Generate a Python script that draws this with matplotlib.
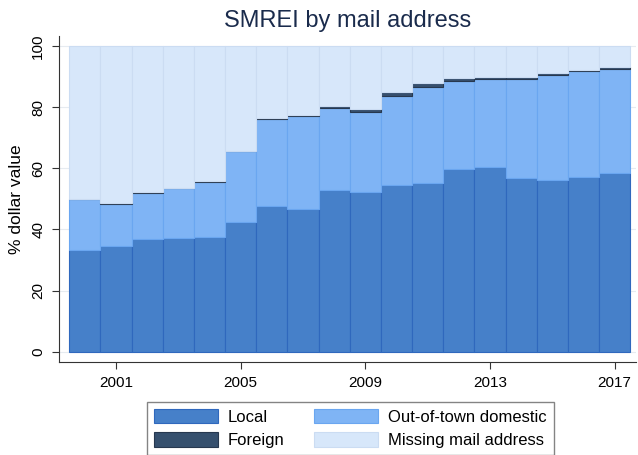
import matplotlib.pyplot as plt
import numpy as np

plt.rcParams["font.family"] = ["Liberation Sans", "DejaVu Sans"]

years = list(range(2000, 2018))
local = [33.3, 34.5, 36.9, 37.2, 37.6, 42.5, 47.8, 46.7, 52.8, 52.1,
         54.4, 55.3, 59.7, 60.5, 56.9, 56.3, 57.3, 58.6]
out_of_town = [16.5, 13.9, 14.9, 16.2, 17.8, 23.0, 28.2, 30.4, 26.8, 26.2,
               29.1, 31.2, 28.8, 28.6, 32.3, 34.2, 34.4, 33.9]
foreign = [0.3, 0.3, 0.3, 0.3, 0.3, 0.3, 0.4, 0.4, 0.8, 1.1,
           1.3, 1.3, 1.0, 0.9, 0.7, 0.7, 0.6, 0.5]
missing = [100 - a - b - c for a, b, c in zip(local, out_of_town, foreign)]

c_local = "#4680c9"
c_oot = "#7fb4f5"
c_foreign = "#36506e"
c_missing = "#d7e7fa"

fig = plt.figure(figsize=(6.38, 4.55), dpi=100)
ax = fig.add_axes([0.0925, 0.205, 0.905, 0.716])

x = np.array(years)
bottom = np.zeros(len(years))
series = [
    ("Local", local, c_local, "#2f68bd"),
    ("Out-of-town domestic", out_of_town, c_oot, "#6aa6f0"),
    ("Foreign", foreign, c_foreign, "#27384f"),
    ("Missing mail address", missing, c_missing, "#cbdcf2"),
]
handles = {}
for name, vals, col, edge in series:
    bars = ax.bar(x, vals, width=1.0, bottom=bottom, color=col,
                  edgecolor=edge, linewidth=0.8, label=name, zorder=2)
    handles[name] = bars
    bottom += np.array(vals)

ax.set_xlim(1999.17, 2017.7)
ax.set_ylim(-3.3, 103.3)
ax.set_yticks([0, 20, 40, 60, 80, 100])
ax.set_xticks([2001, 2005, 2009, 2013, 2017])
ax.grid(axis="y", color="#e6ebf0", linewidth=0.8, zorder=0)
ax.tick_params(axis="y", labelrotation=90, labelsize=11, length=5, pad=5,
               color="#333333")
ax.tick_params(axis="x", labelsize=11, length=5, pad=5, color="#333333")
for lbl in ax.get_yticklabels():
    lbl.set_verticalalignment("center")
for side in ["top", "right"]:
    ax.spines[side].set_visible(False)
ax.spines["left"].set_color("#333333")
ax.spines["bottom"].set_color("#333333")
ax.set_ylabel("% dollar value", fontsize=12.5, labelpad=5)
ax.set_title("SMREI by mail address", fontsize=17, color="#1a2b4c", pad=6.5)

order = ["Local", "Foreign", "Out-of-town domestic", "Missing mail address"]
leg = fig.legend([handles[n] for n in order], order, ncol=2,
                 loc="lower center", bbox_to_anchor=(0.549, 0.0),
                 borderaxespad=0.0,
                 fontsize=12, frameon=True, fancybox=False,
                 handlelength=3.84, handleheight=0.96, handletextpad=0.6,
                 labelspacing=0.45, columnspacing=1.8, borderpad=0.4)
leg.get_frame().set_edgecolor("#666666")
leg.get_frame().set_linewidth(1.0)

fig.savefig("out.png", dpi=100)
